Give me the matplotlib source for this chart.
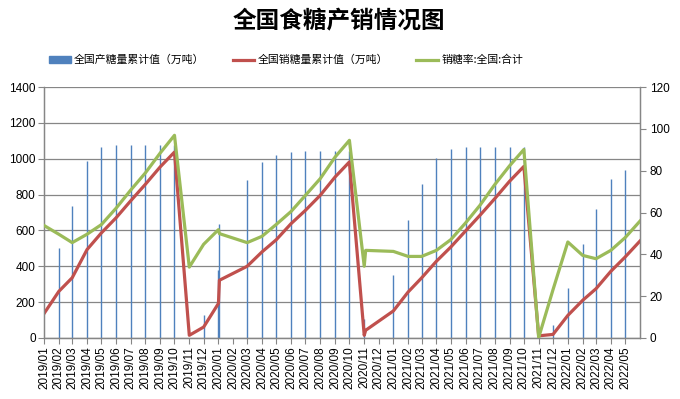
import numpy as np
import pandas as pd
import matplotlib
matplotlib.use("Agg")
import matplotlib.pyplot as plt
import matplotlib.dates as mdates
from matplotlib.patches import Patch
from matplotlib.lines import Line2D

# dados (datas de fim de mês -> início do mês seguinte)
datas = ["2019-01-01", "2019-02-01", "2019-03-01", "2019-04-01", "2019-05-01", "2019-06-01",
         "2019-07-01", "2019-08-01", "2019-09-01", "2019-10-01", "2019-11-01", "2019-12-01",
         "2020-01-01", "2020-01-03", "2020-03-01", "2020-04-01", "2020-05-01", "2020-06-01",
         "2020-07-01", "2020-08-01", "2020-09-01", "2020-10-01", "2020-11-01", "2020-11-04",
         "2021-01-01", "2021-02-01", "2021-03-01", "2021-04-01", "2021-05-01", "2021-06-01",
         "2021-07-01", "2021-08-01", "2021-09-01", "2021-10-01", "2021-11-01", "2021-12-01",
         "2022-01-01", "2022-02-01", "2022-03-01", "2022-04-01", "2022-05-01", "2022-06-01"]

producao = [np.nan, 502, 734, 987, 1063, 1075, 1075, 1075, 1075, 1076, np.nan, 127,
            377, 638, 879, 980, 1019, 1035, 1041, 1041, 1041, 1042, 108, np.nan,
            350, 656, 861, 1006, 1052, 1063, 1063, 1063, 1063, 1063, np.nan, 75,
            279, 526, 718, 887, 935, np.nan]

vendas = [136, 260, 336, 493, 586, 671, 764, 857, 954, 1037, 15, 61,
          193, 322, 400, 480, 548, 638, 712, 796, 898, 982, 15, 43,
          151, 257, 335, 428, 507, 597, 684, 777, 874, 957, 12, 20,
          126, 210, 275, 372, 452, 541]

taxa = [53.8, 49.6, 45.6, 49.6, 54.2, 62.1, 70.6, 78.9, 88.4, 96.9, 33.9, 44.8,
        51.8, 49.9, 45.6, 48.6, 54.3, 60.5, 68.2, 76.2, 86.5, 94.5, 34.3, 41.9,
        41.4, 39.0, 39.0, 41.9, 47.0, 55.0, 63.4, 73.3, 82.3, 90.1, 0.2, 23.1,
        45.9, 39.5, 37.9, 41.9, 48.0, 55.9]

nomes = ["全国产糖量累计值（万吨）", "全国销糖量累计值（万吨）", "销糖率:全国:合计"]

datas = pd.to_datetime(datas)

azul = "#4F81BD"
vermelho = "#C0504D"
verde = "#9BBB59"
cinza = "#868686"

plt.rcParams["font.family"] = ["Liberation Sans", "Noto Sans CJK SC", "DejaVu Sans"]

fig = plt.figure(figsize=(6.8, 3.99), dpi=100)
ax = fig.add_axes([44/680, 1-338/399, (640-44)/680, (338-87)/399])
ax2 = ax.twinx()

# barras muito finas (eixo de datas) -> linhas verticais
ax.vlines(datas, 0, producao, color=azul, lw=1.0, zorder=2)
ax.plot(datas, vendas, color=vermelho, lw=2.3, zorder=3)
ax2.plot(datas, taxa, color=verde, lw=2.3, zorder=4)

ax.set_ylim(0, 1400)
ax.set_yticks(range(0, 1401, 200))
ax2.set_ylim(0, 120)
ax2.set_yticks(range(0, 121, 20))

ax.set_xlim(pd.Timestamp("2019-01-01"), pd.Timestamp("2022-06-01"))
ax.set_xticks(pd.date_range("2019-01-01", "2022-05-01", freq="MS"))
ax.xaxis.set_major_formatter(mdates.DateFormatter("%Y/%m"))
ax.tick_params(axis="x", rotation=90, labelsize=8.5, length=4, color=cinza, pad=2)
ax.tick_params(axis="y", labelsize=8.5, length=4, color=cinza, pad=2)
ax2.tick_params(axis="y", labelsize=8.5, length=4, color=cinza, pad=3)

ax.grid(axis="y", color=cinza, lw=0.9, zorder=0)
ax.set_axisbelow(True)
for a in (ax, ax2):
    a.spines["top"].set_visible(False)
    for s in ("left", "right", "bottom"):
        a.spines[s].set_color(cinza)
        a.spines[s].set_linewidth(0.9)

fig.text(339/680, 1-21/399, "全国食糖产销情况图", ha="center", va="center",
         fontsize=17, fontweight="bold", family=["Noto Sans CJK SC", "DejaVu Sans"])

handles = [Patch(color=azul),
           Line2D([], [], color=vermelho, lw=2.3),
           Line2D([], [], color=verde, lw=2.3)]
fig.legend(handles, nomes, loc="center", bbox_to_anchor=(286/680, 1-60/399), ncol=3,
           frameon=False, prop={"family": ["Noto Sans CJK SC", "DejaVu Sans"], "size": 7.8},
           handlelength=2.0, handletextpad=0.3, columnspacing=2.6, handleheight=0.6,
           borderpad=0, borderaxespad=0)

fig.savefig("out.png", dpi=100)
